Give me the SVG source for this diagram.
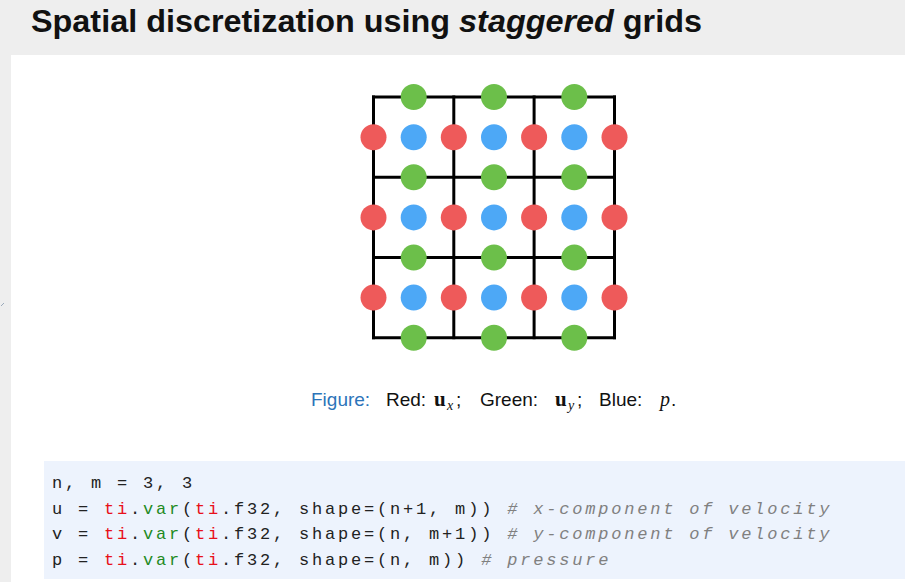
<svg xmlns="http://www.w3.org/2000/svg" width="905" height="582" viewBox="0 0 905 582">
<style>
.title{font-family:"Liberation Sans",Arial,sans-serif;font-weight:bold;font-size:31px;fill:#111}
.grid line{stroke:#000;stroke-width:3;stroke-linecap:square}
.r{fill:#ee5a5a}
.g{fill:#6cbf4a}
.b{fill:#4da8f6}
.cap{font-family:"Liberation Sans",Arial,sans-serif;font-size:19px;fill:#111}
.mb{font-family:"Liberation Serif","Times New Roman",serif;font-weight:bold;font-size:21px}
.mi{font-family:"Liberation Serif","Times New Roman",serif;font-style:italic}
.code{font-family:"Liberation Mono","Courier New",monospace;font-size:17px;letter-spacing:2.8px;fill:#222}
.k{fill:#e8101a}
.f{fill:#1f8a1f}
.c{fill:#808080;font-style:italic}
</style>
<rect width="905" height="582" fill="#eeeeee"/>
<rect x="11" y="55" width="894" height="527" fill="#ffffff"/>
<line x1="1" y1="306" x2="4" y2="303" stroke="#9aaabb" stroke-width="1"/>
<text class="title" x="31" y="32" textLength="671" lengthAdjust="spacingAndGlyphs">Spatial discretization using <tspan font-style="italic">staggered</tspan> grids</text>

<g id="grid" class="grid">
<line x1="373.5" y1="97" x2="614.5" y2="97"/>
<line x1="373.5" y1="177.3" x2="614.5" y2="177.3"/>
<line x1="373.5" y1="257.6" x2="614.5" y2="257.6"/>
<line x1="373.5" y1="337.7" x2="614.5" y2="337.7"/>
<line x1="373.5" y1="97" x2="373.5" y2="337.7"/>
<line x1="453.8" y1="97" x2="453.8" y2="337.7"/>
<line x1="534.1" y1="97" x2="534.1" y2="337.7"/>
<line x1="614.5" y1="97" x2="614.5" y2="337.7"/>
</g>

<g id="ux">
<circle class="r" cx="373.5" cy="137.2" r="13"/><circle class="r" cx="453.8" cy="137.2" r="13"/><circle class="r" cx="534.1" cy="137.2" r="13"/><circle class="r" cx="614.5" cy="137.2" r="13"/>
<circle class="r" cx="373.5" cy="217.4" r="13"/><circle class="r" cx="453.8" cy="217.4" r="13"/><circle class="r" cx="534.1" cy="217.4" r="13"/><circle class="r" cx="614.5" cy="217.4" r="13"/>
<circle class="r" cx="373.5" cy="297.6" r="13"/><circle class="r" cx="453.8" cy="297.6" r="13"/><circle class="r" cx="534.1" cy="297.6" r="13"/><circle class="r" cx="614.5" cy="297.6" r="13"/>
</g>
<g id="uy">
<circle class="g" cx="413.7" cy="97" r="13"/><circle class="g" cx="494" cy="97" r="13"/><circle class="g" cx="574.3" cy="97" r="13"/>
<circle class="g" cx="413.7" cy="177.3" r="13"/><circle class="g" cx="494" cy="177.3" r="13"/><circle class="g" cx="574.3" cy="177.3" r="13"/>
<circle class="g" cx="413.7" cy="257.6" r="13"/><circle class="g" cx="494" cy="257.6" r="13"/><circle class="g" cx="574.3" cy="257.6" r="13"/>
<circle class="g" cx="413.7" cy="337.7" r="13"/><circle class="g" cx="494" cy="337.7" r="13"/><circle class="g" cx="574.3" cy="337.7" r="13"/>
</g>
<g id="p">
<circle class="b" cx="413.7" cy="137.2" r="13"/><circle class="b" cx="494" cy="137.2" r="13"/><circle class="b" cx="574.3" cy="137.2" r="13"/>
<circle class="b" cx="413.7" cy="217.4" r="13"/><circle class="b" cx="494" cy="217.4" r="13"/><circle class="b" cx="574.3" cy="217.4" r="13"/>
<circle class="b" cx="413.7" cy="297.6" r="13"/><circle class="b" cx="494" cy="297.6" r="13"/><circle class="b" cx="574.3" cy="297.6" r="13"/>
</g>

<g id="caption">
<text class="cap" y="406"><tspan x="311" fill="#2c74b9">Figure:</tspan><tspan x="386">Red:</tspan><tspan x="434" class="mb">u</tspan><tspan x="447" class="mi" font-size="14" dy="3.5">x</tspan><tspan x="456" dy="-3.5">;</tspan><tspan x="480">Green:</tspan><tspan x="555" class="mb">u</tspan><tspan x="568" class="mi" font-size="14" dy="3.5">y</tspan><tspan x="577" dy="-3.5">;</tspan><tspan x="599">Blue:</tspan><tspan x="660" class="mi" font-size="20">p</tspan><tspan x="671">.</tspan></text>
</g>

<g id="code">
<rect x="44" y="461" width="861" height="118" fill="#edf3fd"/>
<text class="code" x="52" y="488">n, m = 3, 3</text>
<text class="code" x="52" y="513.5">u = <tspan class="k">ti</tspan>.<tspan class="f">var</tspan>(<tspan class="k">ti</tspan>.f32, shape=(n+1, m)) <tspan class="c"># x-component of velocity</tspan></text>
<text class="code" x="52" y="539">v = <tspan class="k">ti</tspan>.<tspan class="f">var</tspan>(<tspan class="k">ti</tspan>.f32, shape=(n, m+1)) <tspan class="c"># y-component of velocity</tspan></text>
<text class="code" x="52" y="564.5">p = <tspan class="k">ti</tspan>.<tspan class="f">var</tspan>(<tspan class="k">ti</tspan>.f32, shape=(n, m)) <tspan class="c"># pressure</tspan></text>
</g>
</svg>
